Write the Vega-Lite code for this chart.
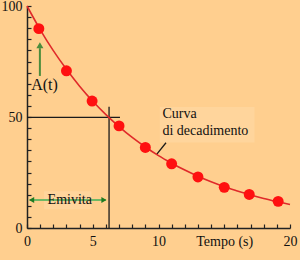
{
  "$schema": "https://vega.github.io/schema/vega-lite/v6.json",
  "width": 263,
  "height": 222,
  "autosize": "none",
  "padding": {"left": 27, "top": 6, "right": 10, "bottom": 32},
  "background": "#FFCF8F",
  "config": {
    "view": {"stroke": null},
    "font": "Liberation Serif",
    "axis": {
      "grid": false,
      "title": null,
      "domainColor": "#222222",
      "domainWidth": 1.5,
      "labelFont": "Liberation Serif",
      "labelFontSize": 14,
      "labelColor": "#111111",
      "labelOverlap": false,
      "labelFlush": false
    }
  },
  "datasets": {
    "curve": [
      {"t": 0, "a": 100}, {"t": 1, "a": 89.4}, {"t": 2, "a": 79.9}, {"t": 3, "a": 71.5},
      {"t": 4, "a": 63.9}, {"t": 5, "a": 57.1}, {"t": 6, "a": 51.1}, {"t": 7, "a": 45.7},
      {"t": 8, "a": 40.8}, {"t": 9, "a": 36.5}, {"t": 10, "a": 32.6}, {"t": 11, "a": 29.2},
      {"t": 12, "a": 26.1}, {"t": 13, "a": 23.3}, {"t": 14, "a": 20.8}, {"t": 15, "a": 18.6},
      {"t": 16, "a": 16.7}, {"t": 17, "a": 14.9}, {"t": 18, "a": 13.3}, {"t": 19, "a": 11.9},
      {"t": 20, "a": 10.6}
    ],
    "points": [
      {"t": 0.9, "a": 89.8}, {"t": 3.0, "a": 70.8}, {"t": 4.95, "a": 57.2},
      {"t": 7.0, "a": 46.0}, {"t": 9.0, "a": 36.3}, {"t": 11.0, "a": 28.9},
      {"t": 13.0, "a": 23.0}, {"t": 15.0, "a": 18.3}, {"t": 16.9, "a": 15.1},
      {"t": 19.1, "a": 12.0}
    ],
    "boxes": [
      {"t": 10.1, "t2": 17.3, "a": 54.5, "a2": 38.5},
      {"t": 1.3, "t2": 4.9, "a": 16.5, "a2": 8.5}
    ],
    "blackrules": [
      {"t": 0, "t2": 7.07, "a": 49.8, "a2": 49.8},
      {"t": 6.24, "t2": 6.24, "a": 54.6, "a2": 0},
      {"t": 10.57, "t2": 9.86, "a": 38.4, "a2": 33.2}
    ],
    "greenrules": [
      {"t": 0.2, "t2": 6.0, "a": 12.6, "a2": 12.6}
    ],
    "headsL": [
      {"t": 0.35, "a": 12.6}
    ],
    "headsR": [
      {"t": 5.85, "a": 12.6}
    ],
    "aarrow": [
      {"t": 0.98, "t2": 0.98, "a": 68.5, "a2": 81}
    ],
    "ahead": [
      {"t": 0.98, "a": 82.3}
    ],
    "labelsC": [
      {"t": 1.33, "a": 64.4, "label": "A(t)"}
    ],
    "labelsL": [
      {"t": 10.3, "a": 51.4, "label": "Curva"},
      {"t": 10.3, "a": 43.7, "label": "di decadimento"}
    ],
    "labelsE": [
      {"t": 3.25, "a": 12.6, "label": "Emivita"}
    ]
  },
  "encoding": {
    "x": {"field": "t", "type": "quantitative", "scale": {"domain": [0, 20], "nice": false},
      "axis": {
        "values": [0,1,2,3,4,5,6,7,8,9,10,11,12,13,14,15,16,17,18,19,20],
        "labelExpr": "datum.value == 15 ? 'Tempo (s)' : (datum.value % 5 == 0 ? datum.label : '')",
        "tickSize": -4,
        "tickColor": "#222222",
        "tickWidth": 1.2,
        "labelPadding": 10
      }
    },
    "y": {"field": "a", "type": "quantitative", "scale": {"domain": [0, 100], "nice": false},
      "axis": {
        "values": [0,5,10,15,20,25,30,35,40,45,50,55,60,65,70,75,80,85,90,95,100],
        "labelExpr": "datum.value % 50 == 0 ? datum.label : ''",
        "tickSize": -4,
        "tickColor": "#222222",
        "tickWidth": 1.2,
        "labelPadding": 9
      }
    }
  },
  "layer": [
    {
      "data": {"name": "boxes"},
      "mark": {"type": "rect", "fill": "#FFD59C"},
      "encoding": {"x2": {"field": "t2"}, "y2": {"field": "a2"}}
    },
    {
      "data": {"name": "blackrules"},
      "mark": {"type": "rule", "color": "#1a1a1a", "strokeWidth": 1.3},
      "encoding": {"x2": {"field": "t2"}, "y2": {"field": "a2"}}
    },
    {
      "data": {"name": "greenrules"},
      "mark": {"type": "rule", "color": "#6FB865", "strokeWidth": 2},
      "encoding": {"x2": {"field": "t2"}, "y2": {"field": "a2"}}
    },
    {
      "data": {"name": "headsL"},
      "mark": {"type": "point", "filled": true, "color": "#1F7A22", "size": 35, "shape": "triangle-left", "opacity": 1},
      "encoding": {}
    },
    {
      "data": {"name": "headsR"},
      "mark": {"type": "point", "filled": true, "color": "#1F7A22", "size": 35, "shape": "triangle-right", "opacity": 1},
      "encoding": {}
    },
    {
      "data": {"name": "aarrow"},
      "mark": {"type": "rule", "color": "#4C8C3C", "strokeWidth": 2},
      "encoding": {"x2": {"field": "t2"}, "y2": {"field": "a2"}}
    },
    {
      "data": {"name": "ahead"},
      "mark": {"type": "point", "filled": true, "color": "#4C8C3C", "size": 50, "shape": "triangle-up", "opacity": 1},
      "encoding": {}
    },
    {
      "data": {"name": "curve"},
      "mark": {"type": "line", "color": "#E02A2A", "strokeWidth": 1.6, "interpolate": "monotone"},
      "encoding": {}
    },
    {
      "data": {"name": "points"},
      "mark": {"type": "circle", "color": "#FF1010", "size": 120, "opacity": 1},
      "encoding": {}
    },
    {
      "data": {"name": "labelsC"},
      "mark": {"type": "text", "font": "Liberation Serif", "color": "#111111", "baseline": "middle", "align": "center", "fontSize": 16},
      "encoding": {"text": {"field": "label"}}
    },
    {
      "data": {"name": "labelsL"},
      "mark": {"type": "text", "font": "Liberation Serif", "color": "#111111", "baseline": "middle", "align": "left", "fontSize": 14},
      "encoding": {"text": {"field": "label"}}
    },
    {
      "data": {"name": "labelsE"},
      "mark": {"type": "text", "font": "Liberation Serif", "color": "#111111", "baseline": "middle", "align": "center", "fontSize": 14},
      "encoding": {"text": {"field": "label"}}
    }
  ]
}
